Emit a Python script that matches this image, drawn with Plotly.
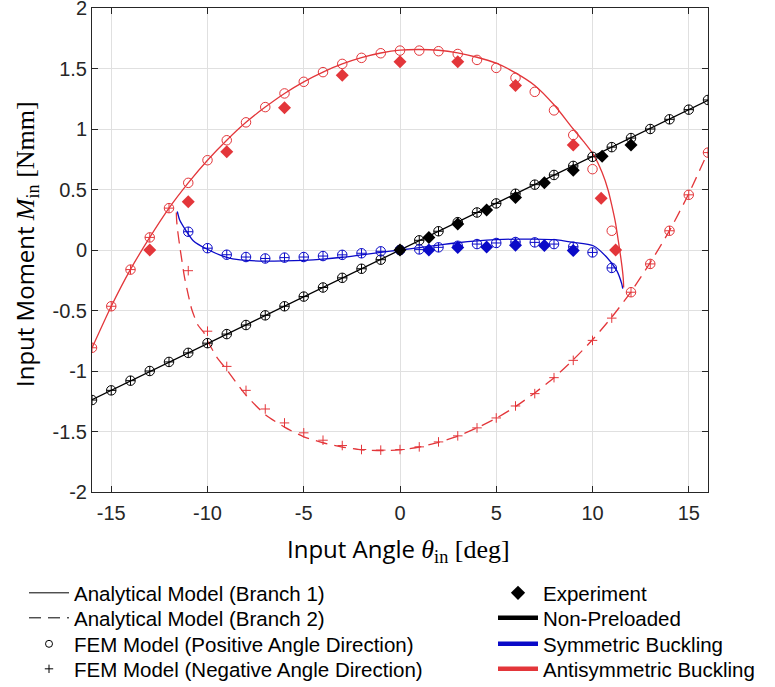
import plotly.graph_objects as go

# ---------------- data ----------------
theta_int = list(range(-16, 17))

# Non-preloaded (black)
np_line_theta = [-16, 16]
np_line_M = [-1.237, 1.237]
np_fem_M = [-1.24, -1.16, -1.08, -1.00, -0.925, -0.85, -0.77, -0.695, -0.62, -0.54,
            -0.465, -0.385, -0.31, -0.23, -0.155, -0.08, 0.0, 0.08, 0.155, 0.23,
            0.31, 0.385, 0.465, 0.54, 0.62, 0.695, 0.77, 0.85, 0.925, 1.0,
            1.08, 1.16, 1.24]
np_exp_theta = [0, 1.5, 3, 4.5, 6, 7.5, 9, 10.5, 12]
np_exp_M = [0.0, 0.104, 0.214, 0.33, 0.434, 0.555, 0.66, 0.775, 0.868]

# Symmetric buckling (blue)
sym_line_theta = [-11.57, -11.45, -11.17, -10.74, -10.04, -9.0, -8.3, -7, -6, -5, -4, -3, -2, -1,
                  0, 1, 2, 3, 4, 5, 6, 7, 8, 9, 10.04, 10.74, 11.26, 11.52, 11.57]
sym_line_M = [0.318, 0.25, 0.173, 0.077, 0.008, -0.061, -0.082, -0.092, -0.09, -0.085, -0.075,
              -0.06, -0.04, -0.02, 0.0, 0.02, 0.04, 0.06, 0.075, 0.085, 0.09, 0.09, 0.085,
              0.063, 0.035, -0.06, -0.17, -0.28, -0.32]
sym_fem_theta = list(range(-11, 12))
sym_fem_M = [0.151, 0.015, -0.039, -0.058, -0.07, -0.063, -0.058, -0.05, -0.04, -0.027, -0.011,
             0.0, 0.005, 0.022, 0.035, 0.049, 0.058, 0.066, 0.063, 0.049, 0.027, -0.02, -0.148]
sym_exp_theta = [1.5, 3, 4.5, 6, 7.5, 9]
sym_exp_M = [0.0, 0.02, 0.025, 0.04, 0.038, -0.005]

# Antisymmetric buckling (red)
anti_b1_theta = [-16, -15, -14, -13, -12, -11, -10, -9, -8, -7, -6, -5, -4, -3, -2, -1, 0,
                 1, 2, 3, 4, 5, 6, 7, 8, 9, 9.52, 10.04, 10.5, 10.82, 11.0, 11.2, 11.34,
                 11.45, 11.55, 11.6, 11.62]
anti_b1_M = [-0.81, -0.465, -0.16, 0.104, 0.346, 0.555, 0.742, 0.907, 1.055, 1.181, 1.294,
             1.39, 1.47, 1.538, 1.59, 1.628, 1.652, 1.657, 1.651, 1.629, 1.593, 1.544, 1.464,
             1.36, 1.2, 1.0, 0.9, 0.79, 0.64, 0.49, 0.37, 0.22, 0.077, -0.04, -0.16,
             -0.24, -0.31]
anti_b2_theta = [-11.62, -11.6, -11.55, -11.45, -11.34, -11.2, -11.0, -10.82, -10.5, -10.2,
                 -10.0, -9.52, -9.0, -8, -7, -6, -5, -4, -3, -2, -1, 0, 1, 2, 3, 4, 5, 6, 7,
                 8, 9, 10, 11, 12, 13, 14, 15, 16]
anti_b2_M = [0.31, 0.24, 0.16, 0.04, -0.077, -0.22, -0.37, -0.49, -0.62, -0.68, -0.75, -0.885,
             -0.99, -1.2, -1.36, -1.464, -1.544, -1.593, -1.629, -1.651, -1.657, -1.652,
             -1.628, -1.59, -1.538, -1.47, -1.39, -1.294, -1.181, -1.055, -0.907, -0.742,
             -0.555, -0.346, -0.104, 0.16, 0.465, 0.81]
anti_fem_pos_M = [-0.808, -0.465, -0.162, 0.104, 0.346, 0.555, 0.742, 0.907, 1.055, 1.181,
                  1.294, 1.39, 1.47, 1.538, 1.588, 1.626, 1.648, 1.648, 1.643, 1.62, 1.571,
                  1.505, 1.423, 1.307, 1.154, 0.95, 0.668, 0.159, -0.349, -0.115, 0.159,
                  0.456, 0.805]
anti_fem_neg_M = [-0.808, -0.465, -0.162, 0.104, 0.346, -0.171, -0.671, -0.962, -1.16,
                  -1.314, -1.429, -1.511, -1.572, -1.616, -1.649, -1.654, -1.649, -1.627,
                  -1.586, -1.536, -1.47, -1.388, -1.289, -1.187, -1.055, -0.912, -0.747,
                  -0.563, -0.349, -0.115, 0.159, 0.456, 0.805]
anti_exp_theta = [-13, -11, -9, -6, -3, 0, 3, 6, 9, 10.45, 11.2]
anti_exp_M = [0.0, 0.398, 0.813, 1.175, 1.445, 1.555, 1.555, 1.36, 0.868, 0.428, 0.0]

x_tickvals = [-15, -10, -5, 0, 5, 10, 15]
x_ticktext = ["-15", "-10", "-5", "0", "5", "10", "15"]
y_tickvals = [-2, -1.5, -1, -0.5, 0, 0.5, 1, 1.5, 2]
y_ticktext = ["-2", "-1.5", "-1", "-0.5", "0", "0.5", "1", "1.5", "2"]

# ---------------- styles ----------------
BLACK = "#000000"
BLUE = "#0a0ac8"
RED = "#e3363a"
LW = 1.3
CIRC = 9.5
PLUS = 6.8
DIAM = 10
DASH = "12px,7px"

fig = go.Figure()

def line(x, y, color, dash="solid", shape="linear"):
    fig.add_trace(go.Scatter(x=x, y=y, mode="lines", showlegend=False, hoverinfo="skip",
                             line=dict(color=color, width=LW, dash=dash, shape=shape,
                                       smoothing=0.6 if shape == "spline" else None)))

def markers(x, y, color, symbol, size, filled=False):
    fig.add_trace(go.Scatter(x=x, y=y, mode="markers", showlegend=False, hoverinfo="skip",
                             marker=dict(symbol=symbol, size=size, color=color,
                                         line=dict(color=color, width=1.0 if not filled else 0))))

# lines
line(np_line_theta, np_line_M, BLACK)
line(sym_line_theta, sym_line_M, BLUE, shape="spline")
line(anti_b1_theta, anti_b1_M, RED, shape="spline")
line(anti_b2_theta, anti_b2_M, RED, dash=DASH, shape="spline")

# FEM markers
markers(theta_int, np_fem_M, BLACK, "circle-open", CIRC)
markers(theta_int, np_fem_M, BLACK, "cross-thin-open", PLUS)
markers(sym_fem_theta, sym_fem_M, BLUE, "circle-open", CIRC)
markers(sym_fem_theta, sym_fem_M, BLUE, "cross-thin-open", PLUS)
markers(theta_int, anti_fem_pos_M, RED, "circle-open", CIRC)
markers(theta_int, anti_fem_neg_M, RED, "cross-thin-open", PLUS)

# experiments
markers(np_exp_theta, np_exp_M, BLACK, "diamond", DIAM, filled=True)
markers(sym_exp_theta, sym_exp_M, BLUE, "diamond", DIAM, filled=True)
markers(anti_exp_theta, anti_exp_M, RED, "diamond", DIAM, filled=True)

# ---------------- legend entries (one small legend per row) ----------------
W, H = 775, 687
ML, MR, MT, MB = 92, 67, 8, 195
PW, PH = W - ML - MR, H - MT - MB
LEG_FONT = dict(family="Liberation Sans, Arial, sans-serif", size=20.5, color="#000")
ROW_PX = [593, 618, 644, 669]
LEFT_PX, RIGHT_PX = 24, 493

legend_layouts = {}
entries = [
    ("Analytical Model (Branch 1)", LEFT_PX, 0, dict(mode="lines", line=dict(color=BLACK, width=1))),
    ("Analytical Model (Branch 2)", LEFT_PX, 1, dict(mode="lines", line=dict(color=BLACK, width=1, dash=DASH))),
    ("FEM Model (Positive Angle Direction)", LEFT_PX, 2,
     dict(mode="markers", marker=dict(symbol="circle-open", size=7, color=BLACK, line=dict(width=1, color=BLACK)))),
    ("FEM Model (Negative Angle Direction)", LEFT_PX, 3,
     dict(mode="markers", marker=dict(symbol="cross-thin-open", size=6, color=BLACK, line=dict(width=1, color=BLACK)))),
    ("Experiment", RIGHT_PX, 0, dict(mode="markers", marker=dict(symbol="diamond", size=11, color=BLACK))),
    ("Non-Preloaded", RIGHT_PX, 1, dict(mode="lines", line=dict(color=BLACK, width=4.5))),
    ("Symmetric Buckling", RIGHT_PX, 2, dict(mode="lines", line=dict(color=BLUE, width=4.5))),
    ("Antisymmetric Buckling", RIGHT_PX, 3, dict(mode="lines", line=dict(color=RED, width=4.5))),
]
for i, (name, lx, row, kw) in enumerate(entries):
    key = "legend" if i == 0 else f"legend{i + 1}"
    fig.add_trace(go.Scatter(x=[None], y=[None], name=name, legend=key, **kw))
    legend_layouts[key] = dict(x=lx / W, y=1 - ROW_PX[row] / H, xref="container", yref="container",
                               xanchor="left", yanchor="middle", orientation="v",
                               bgcolor="rgba(0,0,0,0)", borderwidth=0, font=LEG_FONT,
                               itemwidth=40, tracegroupgap=0)

TICKFONT = dict(family="Liberation Sans, Arial, sans-serif", size=20, color="#262626")
SERIF = "font-family:'Liberation Serif','DejaVu Serif',serif;font-size:26px"
TITLEFONT = dict(family="Open Sans, Lato, sans-serif", size=24, color="#000")

x_title = "Input Angle <span style=\"" + SERIF + "\"><i>θ</i><sub>in</sub> [deg]</span>"
y_title = "Input Moment <span style=\"" + SERIF + "\"><i>M</i><sub>in</sub> [Nmm]</span>"

fig.add_annotation(text=x_title, xref="paper", yref="paper", x=(398 - ML) / PW, y=(MT + PH - 549) / PH,
                   showarrow=False, font=TITLEFONT, xanchor="center", yanchor="middle")
fig.add_annotation(text=y_title, xref="paper", yref="paper", x=(25 - ML) / PW, y=(MT + PH - 244) / PH,
                   showarrow=False, font=TITLEFONT, textangle=-90, xanchor="center", yanchor="middle")

fig.update_layout(
    width=W, height=H,
    margin=dict(l=ML, r=MR, t=MT, b=MB, autoexpand=False),
    paper_bgcolor="white", plot_bgcolor="white",
    showlegend=True,
    xaxis=dict(range=[-16, 16], tickvals=x_tickvals, ticktext=x_ticktext,
               ticks="inside", ticklen=6, tickcolor="#262626", mirror="ticks",
               showline=True, linecolor="#262626", linewidth=1,
               showgrid=True, gridcolor="#e0e0e0", gridwidth=1, zeroline=False,
               tickfont=TICKFONT, ticklabelstandoff=3, automargin=False,
               ticklabeloverflow="allow"),
    yaxis=dict(range=[-2, 2], tickvals=y_tickvals, ticktext=y_ticktext,
               ticks="inside", ticklen=6, tickcolor="#262626", mirror="ticks",
               showline=True, linecolor="#262626", linewidth=1,
               showgrid=True, gridcolor="#e0e0e0", gridwidth=1, zeroline=False,
               tickfont=TICKFONT, automargin=False, ticklabeloverflow="allow"),
    **legend_layouts,
)

fig.write_html("out.html", config={"displayModeBar": False},
               post_script="document.body.style.margin='0';document.body.style.overflow='hidden';")
